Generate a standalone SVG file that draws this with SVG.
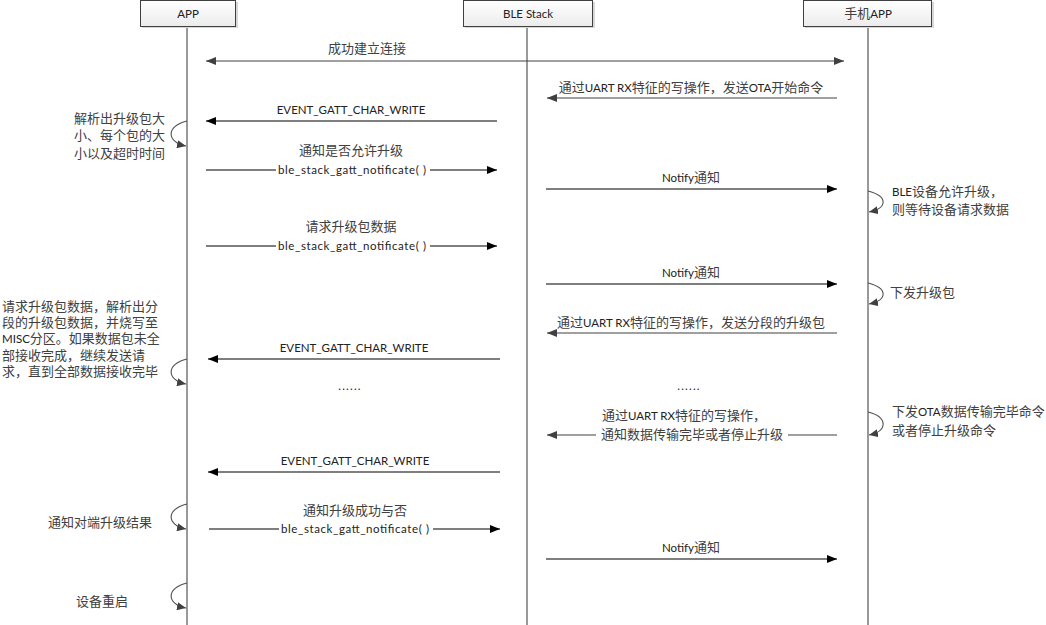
<svg xmlns="http://www.w3.org/2000/svg" width="1046" height="625" viewBox="0 0 1046 625">
<style>
text{font-family:"Lato","Noto Sans CJK SC",sans-serif;font-size:13px;fill:#404040}
.l{font-size:11.5px;fill:#222}
.b{font-size:11.5px;fill:#222}
.h{font-size:11.5px;fill:#222}
.d{letter-spacing:1.2px}
.m{text-anchor:middle}
.e{text-anchor:end}
.box{fill:url(#g);stroke:#404040;stroke-width:1}
.sh{fill:#d8d8d8}
.life{stroke:#555;stroke-width:1.2;fill:none}
.c{stroke:#000;stroke-width:1.2;fill:none;marker-end:url(#ah)}
.cg{stroke:#404040;stroke-width:1.2;fill:none;marker-end:url(#ahg)}
.loop{stroke:#505050;stroke-width:1.1;fill:none;marker-end:url(#al)}
.bg{fill:#fff}
</style>
<defs>
<linearGradient id="g" x1="0" y1="0" x2="0" y2="1"><stop offset="0" stop-color="#ffffff"/><stop offset="1" stop-color="#ececec"/></linearGradient>
<marker id="ah" markerUnits="userSpaceOnUse" markerWidth="10" markerHeight="8" refX="10" refY="4" orient="auto"><path d="M0,0 L10,4 L0,8 z" fill="#000"/></marker>
<marker id="ahg" markerUnits="userSpaceOnUse" markerWidth="10" markerHeight="8" refX="10" refY="4" orient="auto"><path d="M0,0 L10,4 L0,8 z" fill="#404040"/></marker>
<marker id="ahs" markerUnits="userSpaceOnUse" markerWidth="10" markerHeight="8" refX="0" refY="4" orient="auto"><path d="M10,0 L0,4 L10,8 z" fill="#404040"/></marker>
<marker id="al" markerUnits="userSpaceOnUse" markerWidth="9" markerHeight="8" refX="9" refY="4" orient="auto"><path d="M0,0 L9,4 L0,8 z" fill="#404040"/></marker>
</defs>
<rect width="1046" height="625" fill="#fff"/>

<g id="lifelines">
<line class="life" x1="187" y1="26" x2="187" y2="625"/>
<line class="life" x1="527" y1="26" x2="527" y2="625"/>
<line class="life" x1="868" y1="26" x2="868" y2="625"/>
</g>

<g id="app">
<rect class="sh" x="142" y="2" width="96" height="26"/>
<rect class="box" x="140.5" y="0.5" width="95" height="26"/>
<text class="h m" x="188" y="18">APP</text>
</g>
<g id="blestack">
<rect class="sh" x="465" y="2" width="130" height="26"/>
<rect class="box" x="463.5" y="0.5" width="129" height="26"/>
<text class="h m" x="528" y="18">BLE Stack</text>
</g>
<g id="phoneapp">
<rect class="sh" x="805" y="2" width="129" height="26"/>
<rect class="box" x="803.5" y="0.5" width="128" height="26"/>
<text class="m" x="868" y="18">手机<tspan class="l">APP</tspan></text>
</g>

<g id="connectors">
<line class="cg" x1="206" y1="61" x2="844" y2="61" style="marker-start:url(#ahs)"/>
<line class="cg" x1="837" y1="98" x2="547" y2="98"/>
<line class="c" x1="497" y1="121" x2="206" y2="121"/>
<line class="c" x1="206" y1="170" x2="497" y2="170"/>
<line class="c" x1="546" y1="189" x2="837" y2="189"/>
<line class="c" x1="206" y1="246" x2="497" y2="246"/>
<line class="c" x1="546" y1="284" x2="837" y2="284"/>
<line class="cg" x1="837" y1="333" x2="547" y2="333"/>
<line class="c" x1="500" y1="359" x2="208" y2="359"/>
<line class="cg" x1="837" y1="435" x2="547" y2="435"/>
<line class="c" x1="500" y1="472" x2="208" y2="472"/>
<line class="c" x1="209" y1="529" x2="500" y2="529"/>
<line class="c" x1="546" y1="559" x2="837" y2="559"/>
<path class="loop" d="M187,121 C166,126 166,142 186,146"/>
<path class="loop" d="M187,359 C166,364 166,380 186,384"/>
<path class="loop" d="M187,504 C166,509 166,525 186,529"/>
<path class="loop" d="M187,583 C166,588 166,604 186,608"/>
<path class="loop" d="M868,191 C888,196 888,208 869,212"/>
<path class="loop" d="M868,283 C888,288 888,300 869,304"/>
<path class="loop" d="M868,412 C888,417 888,431 869,435"/>
</g>

<g id="labels">
<text class="m" x="367" y="53">成功建立连接</text>
<text class="m" x="691" y="92">通过<tspan class="l">UART RX</tspan>特征的写操作，发送<tspan class="l">OTA</tspan>开始命令</text>
<text class="l m" x="351" y="114">EVENT_GATT_CHAR_WRITE</text>
<text class="m" x="351" y="155">通知是否允许升级</text>
<rect class="bg" x="276" y="163" width="154" height="14"/>
<text class="b" x="278" y="174" textLength="148" lengthAdjust="spacing">ble_stack_gatt_notificate( )</text>
<text class="m" x="691" y="182"><tspan class="l">Notify</tspan>通知</text>
<text class="m" x="351" y="231">请求升级包数据</text>
<rect class="bg" x="276" y="239" width="154" height="14"/>
<text class="b" x="278" y="250" textLength="148" lengthAdjust="spacing">ble_stack_gatt_notificate( )</text>
<text class="m" x="691" y="277"><tspan class="l">Notify</tspan>通知</text>
<text class="m" x="691" y="327">通过<tspan class="l">UART RX</tspan>特征的写操作，发送分段的升级包</text>
<text class="l m" x="354" y="352">EVENT_GATT_CHAR_WRITE</text>
<text class="l m d" x="350" y="390">......</text>
<text class="l m d" x="689" y="390">......</text>
<text class="m" x="684" y="420">通过<tspan class="l">UART RX</tspan>特征的写操作，</text>
<rect class="bg" x="596" y="428" width="192" height="14"/>
<text class="m" x="692" y="439">通知数据传输完毕或者停止升级</text>
<text class="l m" x="355" y="465">EVENT_GATT_CHAR_WRITE</text>
<text class="m" x="355" y="515">通知升级成功与否</text>
<rect class="bg" x="279" y="522" width="154" height="14"/>
<text class="b" x="281" y="533" textLength="148" lengthAdjust="spacing">ble_stack_gatt_notificate( )</text>
<text class="m" x="691" y="552"><tspan class="l">Notify</tspan>通知</text>
</g>

<g id="notes">
<text class="e" x="165" y="123">解析出升级包大</text>
<text class="e" x="165" y="140">小、每个包的大</text>
<text class="e" x="165" y="158">小以及超时时间</text>
<text x="892" y="196"><tspan class="l">BLE</tspan>设备允许升级，</text>
<text x="892" y="214">则等待设备请求数据</text>
<text x="890" y="297">下发升级包</text>
<text x="2" y="311">请求升级包数据，解析出分</text>
<text x="2" y="327">段的升级包数据，并烧写至</text>
<text x="2" y="343"><tspan class="l">MISC</tspan>分区。如果数据包未全</text>
<text x="2" y="360">部接收完成，继续发送请</text>
<text x="2" y="376">求，直到全部数据接收完毕</text>
<text x="892" y="416">下发<tspan class="l">OTA</tspan>数据传输完毕命令</text>
<text x="892" y="435">或者停止升级命令</text>
<text class="m" x="100" y="527">通知对端升级结果</text>
<text class="m" x="102" y="606">设备重启</text>
</g>
</svg>
